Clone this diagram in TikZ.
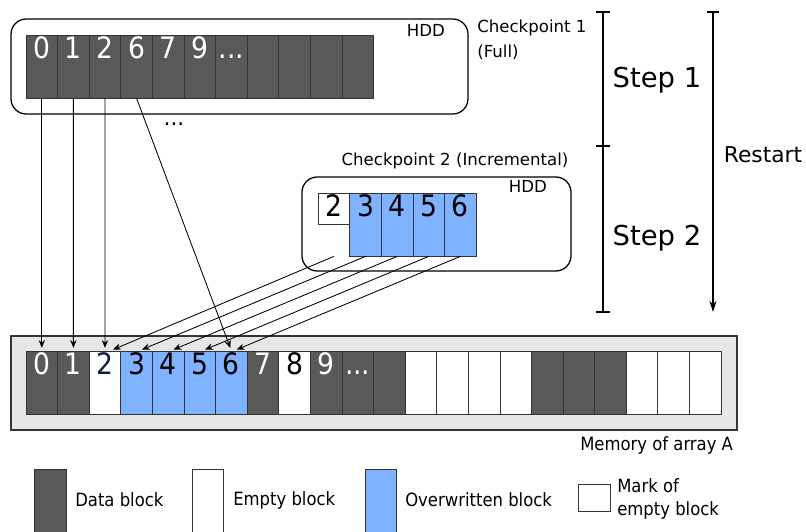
\documentclass[tikz,border=0pt]{standalone}
\usepackage{fontspec}
\setmainfont{DejaVu Sans}
\newfontfamily\condfont{DejaVu Sans Condensed}
\usetikzlibrary{arrows.meta, calc}
\definecolor{datagray}{HTML}{595959}
\definecolor{overblue}{HTML}{80B3FF}
\definecolor{memgray}{HTML}{E6E6E6}
\definecolor{navy}{HTML}{102040}
\newcommand\blkdots{...}
\tikzset{
  blk/.style={draw=black!80, line width=0.5pt, minimum width=0.79cm, minimum height=1.575cm, inner sep=0pt},
  num/.style={anchor=north, inner sep=1.5pt, text height=15.3pt, text depth=0pt, font=\condfont\fontsize{21}{21}\selectfont},
  hdd/.style={draw, line width=0.9pt, rounded corners=0.38cm},
  lbl/.style={font=\fontsize{11.8}{18}\selectfont},
  leg/.style={anchor=west, inner sep=0pt, align=left, font=\condfont\fontsize{13}{16.4}\selectfont},
  bigl/.style={font=\fontsize{19.5}{20}\selectfont},
  link/.style={-{Stealth[length=5.5pt, width=4.5pt]}, line width=0.6pt, shorten >=2pt},
}

\begin{document}
\begin{tikzpicture}[x=0.025cm, y=-0.025cm]
\useasboundingbox (0,0) rectangle (806,531);
% full checkpoint on disk
\draw[hdd] (11,19) rectangle (468,114);
\node[lbl] (hdd1) at (426,30) {HDD};
\node[lbl, anchor=west, align=left, inner sep=0pt] (cp1) at (477,40) {Checkpoint 1\\(Full)};
\foreach \i in {0,...,10} \node[blk, fill=datagray] (f\i) at (41.8+31.6*\i,66.5) {};
\foreach \i/\t in {0/0,1/1,2/2,3/6,4/7,5/9,6/\blkdots} \node[num, text=white] at (f\i.north) {\t};
\node[font=\fontsize{15.5}{16}\selectfont] (more) at (174,124) {\blkdots};
% incremental checkpoint on disk
\node[lbl] (cp2) at (455,161) {Checkpoint 2 (Incremental)};
\draw[hdd] (302,177) rectangle (571,271);
\node[lbl] (hdd2) at (528,186) {HDD};
\node[blk, fill=white, minimum height=0.775cm, minimum width=0.8cm] (c0) at (334,208.5) {};
\foreach \i in {1,...,4} \node[blk, fill=overblue] (c\i) at (334+31.6*\i,224.5) {};
\foreach \i/\t in {0/2,1/3,2/4,3/5,4/6} \node[num] at (c\i.north) {\t};
% memory of the array
\draw[draw=black!80, fill=memgray, line width=0.9pt] (11,336) rectangle (737,430);
\foreach \c [count=\i from 0] in {datagray,datagray,white,overblue,overblue,overblue,overblue,datagray,white,datagray,datagray,datagray,white,white,white,white,datagray,datagray,datagray,white,white,white}
  \node[blk, fill=\c] (m\i) at (41.8+31.59*\i,382.5) {};
\foreach \i/\t/\c in {0/0/white,1/1/white,2/2/navy,3/3/black,4/4/black,5/5/black,6/6/black,7/7/white,8/8/black,9/9/white,10/\blkdots/white}
  \node[num, text=\c] at (m\i.north) {\t};
\node[leg] (memlbl) at (580,445) {Memory of array A};
% restore paths
\foreach \i in {0,1,2} \draw[link] (f\i.south) -- (m\i.north);
\draw[link] (f3.south) -- (m6.north);
\coordinate (c0b) at (c0 |- c1.south);
\draw[link] (c0b) -- ([xshift=4pt]m2.north);
\foreach \i/\j in {1/3,2/4,3/5,4/6} \draw[link] (c\i.south) -- ([xshift=2pt]m\j.north);
% steps
\draw[line width=0.8pt] (603,12) -- (603,312);
\foreach \y in {12,146,312} \draw[line width=0.8pt] (596,\y) -- (610,\y);
\node[bigl] (s1) at (657,80) {Step 1};
\node[bigl] (s2) at (657,238) {Step 2};
\draw[-{Stealth[length=8pt, width=5pt]}, line width=0.8pt] (713,12) -- (713,312);
\draw[line width=0.8pt] (707,12) -- (719,12);
\node[font=\fontsize{15.5}{16}\selectfont] (rs) at (763,155) {Restart};
% legend
\node[blk, fill=datagray] (lg1) at (50.5,500.5) {};
\node[leg] at (75,500) {Data block};
\node[blk, fill=white] (lg2) at (208,500.5) {};
\node[leg] at (233,500) {Empty block};
\node[blk, fill=overblue] (lg3) at (381,500.5) {};
\node[leg] at (405,500) {Overwritten block};
\node[blk, fill=white, minimum height=0.675cm, minimum width=0.8cm] (lg4) at (594,497.5) {};
\node[leg] at (617,498.5) {Mark of\\empty block};
\end{tikzpicture}
\end{document}
